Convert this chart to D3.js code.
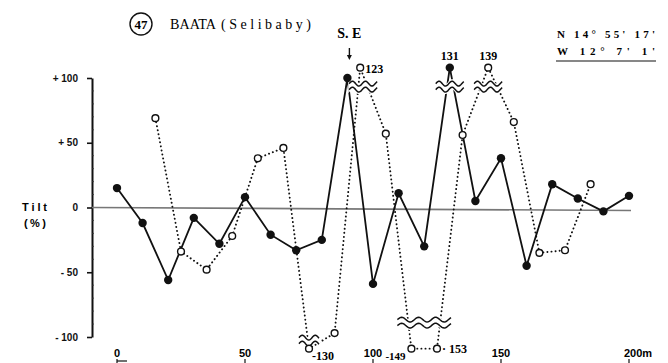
<!DOCTYPE html>
<html>
<head>
<meta charset="utf-8">
<script src="https://cdn.jsdelivr.net/npm/d3@7"></script>
<style>
  body { margin: 0; background: #fff; }
  svg { display: block; }
</style>
</head>
<body>
<div class="chart"></div>
<script>
// distance along the profile (m) and tilt (%)
const solidDist = [0, 10, 20, 30, 40, 50, 60, 70, 80, 90, 100, 110, 120, 130, 140, 150, 160, 170, 180, 190, 200];
const solidTilt = [15, -12, -56, -8, -28, 8, -21, -33, -25, 100, -59, 11, -30, 131, 5, 38, -45, 18, 7, -3, 9];

const openDist = [15, 25, 35, 45, 55, 65, 75, 85, 95, 105, 115, 125, 135, 145, 155, 165, 175, 185];
const openTilt = [69, -34, -48, -22, 38, 46, -130, -97, 123, 57, -149, -153, 56, 139, 66, -35, -33, 18];

const yTicks = [100, 50, 0, -50, -100];
const yTickLabels = ['+ 100', '+ 50', '0', '- 50', '- 100'];
const xTicks = [0, 50, 100, 150, 200];
const xTickLabels = ['0', '50', '100', '150', '200m'];

const W = 668, H = 363;

const x = d3.scaleLinear().domain([0, 200]).range([117, 629]);
const y = d3.scaleLinear().domain([-100, 100]).range([337, 78]);

// values beyond +-100 are drawn just past the axis end, behind a break mark
function shown(v) {
    if (v > 100) return 108;
    if (v < -100) return -109;
    return v;
}

const svg = d3.select('.chart')
    .append('svg')
        .attr('width', W)
        .attr('height', H)
        .style('font-family', '"Liberation Sans", Arial, sans-serif');

// title
svg.append('circle')
    .attr('cx', 141).attr('cy', 24).attr('r', 11)
    .attr('fill', 'none').attr('stroke', '#111').attr('stroke-width', 1.4);
svg.append('text')
    .attr('x', 141).attr('y', 29)
    .attr('text-anchor', 'middle')
    .style('font-family', '"Liberation Serif", serif')
    .style('font-weight', 'bold')
    .style('font-size', '13px')
    .text('47');
svg.append('text')
    .attr('x', 170).attr('y', 29)
    .attr('textLength', 46).attr('lengthAdjust', 'spacingAndGlyphs')
    .style('font-family', '"Liberation Serif", serif')
    .style('font-size', '14px')
    .text('BAATA');
svg.append('text')
    .attr('x', 221).attr('y', 29)
    .attr('textLength', 90).attr('lengthAdjust', 'spacing')
    .style('font-family', '"Liberation Serif", serif')
    .style('font-size', '14px')
    .text('(Selibaby)');

// coordinates, top right
const coord = svg.append('g')
    .style('font-family', '"Liberation Serif", serif')
    .style('font-weight', 'bold')
    .style('font-size', '11px');
coord.append('text').attr('x', 557).attr('y', 38)
    .attr('textLength', 98).attr('lengthAdjust', 'spacing')
    .text("N  14°  55'  17'");
coord.append('text').attr('x', 557).attr('y', 55)
    .attr('textLength', 98).attr('lengthAdjust', 'spacing')
    .text("W  12°    7'    1'");
coord.append('line')
    .attr('x1', 556).attr('x2', 656).attr('y1', 61).attr('y2', 61)
    .attr('stroke', '#111').attr('stroke-width', 1.2);

// y axis
const yAxis = svg.append('g')
    .attr('transform', 'translate(92,0)')
    .call(d3.axisLeft(y)
        .tickValues(yTicks)
        .tickSize(5)
        .tickSizeOuter(0)
        .tickPadding(9)
        .tickFormat((d, i) => yTickLabels[i]));
yAxis.select('.domain').attr('stroke', '#111').attr('stroke-width', 2);
yAxis.selectAll('.tick line').attr('stroke', '#111').attr('stroke-width', 1.6);
yAxis.selectAll('.tick text')
    .attr('fill', '#111')
    .style('font-family', '"Liberation Sans", Arial, sans-serif')
    .style('font-weight', 'bold')
    .style('font-size', '10px');

// small notches every 10 %
svg.append('g')
    .selectAll('line')
    .data(d3.range(-90, 100, 10).filter(d => d % 50 !== 0))
    .enter()
        .append('line')
        .attr('x1', 92).attr('x2', 94)
        .attr('y1', d => y(d)).attr('y2', d => y(d))
        .attr('stroke', '#333').attr('stroke-width', 0.8);

// axis title
const yTitle = svg.append('g')
    .style('font-weight', 'bold')
    .style('font-size', '11px');
yTitle.append('text').attr('x', 22).attr('y', 211)
    .attr('textLength', 25).attr('lengthAdjust', 'spacing')
    .text('Tilt');
yTitle.append('text').attr('x', 24).attr('y', 227)
    .attr('textLength', 22).attr('lengthAdjust', 'spacing')
    .text('(%)');

// x labels along the bottom
const xLab = svg.append('g')
    .selectAll('g')
    .data(xTicks)
    .enter()
        .append('g')
        .attr('transform', d => `translate(${x(d)},0)`);
xLab.append('text')
    .attr('x', (d, i) => i === xTicks.length - 1 ? 9 : 0)
    .attr('y', 357)
    .attr('text-anchor', 'middle')
    .style('font-weight', 'bold')
    .style('font-size', '11px')
    .text((d, i) => xTickLabels[i]);
xLab.append('line')
    .attr('x1', 0).attr('x2', 0)
    .attr('y1', 359).attr('y2', 363)
    .attr('stroke', '#111').attr('stroke-width', 1.2);
svg.append('line')
    .attr('x1', x(0)).attr('x2', x(0) + 10)
    .attr('y1', 361).attr('y2', 361)
    .attr('stroke', '#111').attr('stroke-width', 1.2);

// zero line
svg.append('line')
    .attr('x1', 92).attr('x2', x(200) + 2)
    .attr('y1', y(0)).attr('y2', y(0) + 3)
    .attr('stroke', '#777').attr('stroke-width', 1.6);

const solid = solidDist.map((d, i) => ({ d: d, v: solidTilt[i] }));
const open = openDist.map((d, i) => ({ d: d, v: openTilt[i] }));

const line = d3.line()
    .x(p => x(p.d))
    .y(p => y(shown(p.v)));

svg.append('path')
    .datum(open)
    .attr('d', line)
    .attr('fill', 'none')
    .attr('stroke', '#111')
    .attr('stroke-width', 1.9)
    .attr('stroke-linecap', 'round')
    .attr('stroke-dasharray', '0.1,4');

svg.append('path')
    .datum(solid)
    .attr('d', line)
    .attr('fill', 'none')
    .attr('stroke', '#111')
    .attr('stroke-width', 1.8);

// break marks over the clipped segments
function clippedGroups(points) {
    const groups = [];
    let cur = null;
    points.forEach(p => {
        const s = p.v > 100 ? 1 : p.v < -100 ? -1 : 0;
        if (s !== 0 && cur && cur.sign === s) {
            cur.pts.push(p);
        } else if (s !== 0) {
            cur = { sign: s, pts: [p] };
            groups.push(cur);
        } else {
            cur = null;
        }
    });
    return groups;
}

const breaks = clippedGroups(solid).concat(clippedGroups(open)).map(g => {
    const xs = g.pts.map(p => x(p.d));
    const cx = d3.mean(xs);
    const w = d3.max(xs) - d3.min(xs) + (g.sign < 0 && g.pts.length === 1 ? 20 : 28);
    const off = g.sign > 0 ? 19 : (g.pts.length > 1 ? -26 : -8);
    return { cx: cx + (g.sign > 0 && g.pts[0].d === 95 ? 3 : 0), cy: y(shown(g.sign * 200)) + off, w: w };
});

function wave(b, dy) {
    const n = 40;
    const wl = b.w > 40 ? 17 : 13;
    return d3.range(n + 1).map(k => {
        const t = k / n;
        const px = b.cx - b.w / 2 + t * b.w;
        return [px, b.cy + dy - 2.4 * Math.sin((px - b.cx + b.w / 2) / wl * 2 * Math.PI)];
    });
}

const bg = svg.append('g').selectAll('g').data(breaks).enter().append('g');
bg.append('path')
    .attr('d', b => d3.line()(wave(b, -4).concat(wave(b, 4).reverse())) + 'Z')
    .attr('fill', '#fff')
    .attr('stroke', '#fff')
    .attr('stroke-width', 2);
bg.append('path')
    .attr('d', b => d3.line()(wave(b, -3)))
    .attr('fill', 'none').attr('stroke', '#111').attr('stroke-width', 1.5);
bg.append('path')
    .attr('d', b => d3.line()(wave(b, 3)))
    .attr('fill', 'none').attr('stroke', '#111').attr('stroke-width', 1.5);

// markers
svg.append('g')
    .selectAll('circle')
    .data(open)
    .enter()
        .append('circle')
        .attr('cx', p => x(p.d))
        .attr('cy', p => y(shown(p.v)))
        .attr('r', 3.4)
        .attr('fill', '#fff')
        .attr('stroke', '#111')
        .attr('stroke-width', 1.4);

svg.append('g')
    .selectAll('circle')
    .data(solid)
    .enter()
        .append('circle')
        .attr('cx', p => x(p.d))
        .attr('cy', p => y(shown(p.v)))
        .attr('r', 4.2)
        .attr('fill', '#111');

// true values for the clipped points
const valFont = g => g
    .style('font-family', '"Liberation Serif", serif')
    .style('font-weight', 'bold')
    .style('font-size', '12px');

const clipped = solid.concat(open).filter(p => Math.abs(p.v) > 100);
svg.append('g')
    .call(valFont)
    .selectAll('text')
    .data(clipped)
    .enter()
        .append('text')
        .attr('x', p => {
            const cx = x(p.d);
            if (p.v === 123) return cx + 5;
            if (p.v === -130) return cx + 3;
            if (p.v === -149) return cx - 26;
            if (p.v === -153) return cx + 5;
            return cx;
        })
        .attr('y', p => {
            const cy = y(shown(p.v));
            if (p.v === 123) return cy + 5;
            if (p.v > 100) return cy - 8;
            if (p.v === -153) return cy + 4;
            return cy + 11;
        })
        .attr('text-anchor', p => p.v > 100 && p.v !== 123 ? 'middle' : 'start')
        .style('font-size', p => p.v === -149 ? '11px' : null)
        .text(p => p.v === 123 ? '123' : p.v > 100 ? String(p.v) : (p.v === -153 ? '· ' : '-') + Math.abs(p.v));

// S.E marker above the 90 m peak
const se = svg.append('g').attr('transform', `translate(${x(90) + 2},0)`);
se.append('text')
    .attr('x', 0).attr('y', 38)
    .attr('text-anchor', 'middle')
    .style('font-family', '"Liberation Serif", serif')
    .style('font-weight', 'bold')
    .style('font-size', '14px')
    .text('S. E');
se.append('line')
    .attr('x1', 0).attr('x2', 0).attr('y1', 48).attr('y2', 57)
    .attr('stroke', '#111').attr('stroke-width', 1.4);
se.append('path')
    .attr('d', 'M-2.5,55L0,60L2.5,55Z')
    .attr('fill', '#111');
</script>
</body>
</html>
